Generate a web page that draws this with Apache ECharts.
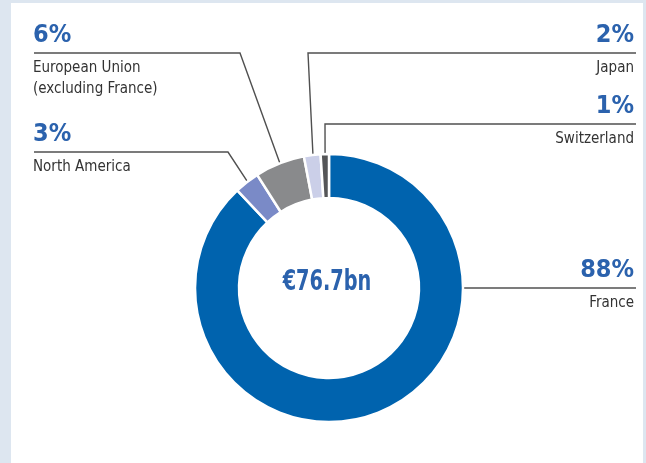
<!DOCTYPE html>
<html>
<head>
<meta charset="utf-8">
<script src="https://cdn.jsdelivr.net/npm/echarts@6/dist/echarts.min.js"></script>
<style>
html,body{margin:0;padding:0;background:#dde6f0;}
#c{width:646px;height:463px;}
</style>
</head>
<body>
<div id="c"></div>
<script>
// ---- data ----
const categories = ['France', 'North America', 'European Union\n(excluding France)', 'Japan', 'Switzerland'];
const shares = [88, 3, 6, 2, 1];           // % of total
const totalLabel = '€76.7bn';

// ---- styling / layout (kept separate from data) ----
const sliceColors = ['#0063ae', '#7a8ac7', '#898a8c', '#cbcfe8', '#555658'];
const CX = 329, CY = 288, R_IN = 90, R_OUT = 134, R_ANCHOR = 124;
const labelCfg = [
  { side: 'right', lineY: 288, elbowX: null },
  { side: 'left',  lineY: 152, elbowX: 228 },
  { side: 'left',  lineY: 53,  elbowX: 240 },
  { side: 'right', lineY: 53,  elbowX: 308 },
  { side: 'right', lineY: 124, elbowX: 325 }
];
const LEFT_X = 34, RIGHT_X = 636;
const FONT = "'DejaVu Sans Condensed','Liberation Sans Narrow',sans-serif";

// mid-angle (clockwise from 12 o'clock, radians) of each slice
const total = shares.reduce((a, b) => a + b, 0);
const midAngles = [];
let acc = 0;
shares.forEach(v => { midAngles.push((acc + v / 2) / total * 2 * Math.PI); acc += v; });

const chart = echarts.init(document.getElementById('c'), null, { renderer: 'canvas' });
chart.setOption({
  backgroundColor: '#dde6f0',
  animation: false,
  graphic: [
    { type: 'rect', z: -10, shape: { x: 11, y: 3, width: 632, height: 470 }, style: { fill: '#ffffff' }, silent: true },
    { type: 'text', z: 10, x: CX - 2, y: CY - 6, scaleX: 0.74,
      style: { text: totalLabel, fill: '#2b62ad', font: 'bold 29px ' + FONT, textAlign: 'center', textVerticalAlign: 'middle' } }
  ],
  series: [{
    type: 'pie',
    center: [CX, CY],
    radius: [R_IN, R_OUT],
    startAngle: 90,
    clockwise: true,
    avoidLabelOverlap: false,
    silent: true,
    itemStyle: { borderColor: '#ffffff', borderWidth: 2.5 },
    data: categories.map((name, i) => ({
      name: name,
      value: shares[i],
      itemStyle: { color: sliceColors[i] },
      label: { align: labelCfg[i].side === 'right' ? 'right' : 'left' }
    })),
    label: {
      show: true,
      position: 'outside',
      formatter: p => '{p|' + p.value + '%}\n' + p.name.split('\n').map(s => '{n|' + s + '}').join('\n'),
      rich: {
        p: { fontFamily: FONT, fontWeight: 'bold', fontSize: 25, lineHeight: 45, color: '#2b62ad' },
        n: { fontFamily: FONT, fontSize: 15, lineHeight: 21, color: '#333333' }
      }
    },
    labelLine: { show: true, length: 10, length2: 10, smooth: false, lineStyle: { color: '#505050', width: 1.4 } },
    labelLayout: function (params) {
      const i = params.dataIndex;
      const cfg = labelCfg[i];
      let sx, sy, ex, ey;
      if (cfg.elbowX === null) {
        const dy = cfg.lineY - CY;
        const dx = Math.sqrt(R_ANCHOR * R_ANCHOR - dy * dy);
        sx = cfg.side === 'right' ? CX + dx : CX - dx;
        sy = cfg.lineY;
        ex = sx; ey = sy;
      } else {
        sx = CX + R_ANCHOR * Math.sin(midAngles[i]);
        sy = CY - R_ANCHOR * Math.cos(midAngles[i]);
        ex = cfg.elbowX; ey = cfg.lineY;
      }
      const endX = cfg.side === 'right' ? RIGHT_X : LEFT_X;
      return {
        x: cfg.side === 'right' ? RIGHT_X - 2 : LEFT_X - 1,
        y: cfg.lineY - 40.5,
        align: cfg.side === 'right' ? 'right' : 'left',
        verticalAlign: 'top',
        labelLinePoints: [[sx, sy], [ex, ey], [endX, cfg.lineY]]
      };
    }
  }]
});
</script>
</body>
</html>
